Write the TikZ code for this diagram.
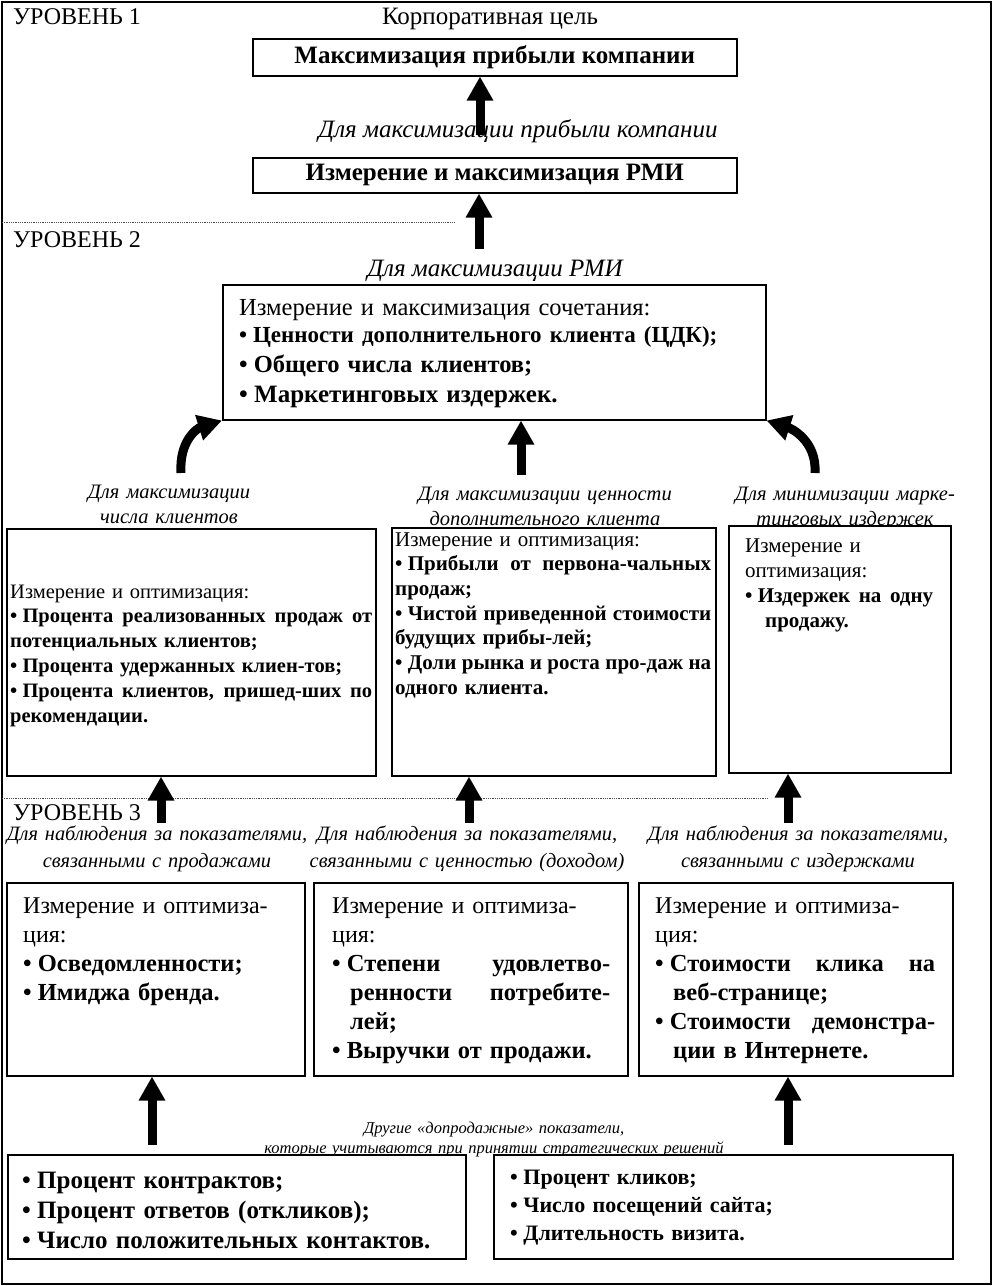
\documentclass[tikz,border=0pt]{standalone}
\usepackage{fontspec}
\setmainfont{Liberation Serif}
\usetikzlibrary{arrows.meta}
\newcommand{\jl}[2]{\makebox[#1][s]{\spaceskip=0.25em plus 1fil minus 0.1em\relax #2}}
\newcommand{\bul}{•\hspace{0.25em}}
\tikzset{
  box/.style={draw, line width=1.5pt, fill=white, inner sep=0pt, anchor=north west},
  txt/.style={inner sep=0pt, anchor=base west, align=left},
  ctxt/.style={inner sep=0pt, anchor=base, align=center},
  bigarrow/.style={line width=9pt, -{Triangle[width=25pt,length=24pt]}},
  sepline/.style={densely dotted, line width=0.8pt, black!70},
}
\begin{document}
\begin{tikzpicture}[x=1pt,y=-1pt]
\useasboundingbox (0,0) rectangle (993,1286);
\fill[white] (0,0) rectangle (993,1286);
\draw[line width=2pt] (1.5,1.5) rectangle (990.5,1284);

% ---------- LEVEL 1 ----------
\node[txt, font=\fontsize{24}{28}\selectfont] (lv1) at (13,24) {УРОВЕНЬ 1};
\node[ctxt, font=\fontsize{25}{29}\selectfont] (corp) at (490,24) {Корпоративная цель};
\node[box, minimum width=484pt, minimum height=37pt, font=\fontsize{25}{29}\selectfont\bfseries] (t1) at (252,38) {Максимизация прибыли компании};
\coordinate (a1) at (480,135);
\draw[bigarrow] (a1) -- (a1 |- t1.south);
\node[ctxt, font=\fontsize{25}{29}\selectfont\itshape] (lab1) at (518,137) {Для максимизации прибыли компании};
\node[box, minimum width=484pt, minimum height=35pt, font=\fontsize{25}{29}\selectfont\bfseries] (t2) at (252,157) {Измерение и максимизация РМИ};
\coordinate (a2) at (479,249);
\draw[bigarrow] (a2) -- (a2 |- t2.south);
\coordinate (d1a) at (2,222);
\coordinate (d1b) at (455,222);
\draw[sepline] (d1a) -- (d1b);

% ---------- LEVEL 2 ----------
\node[txt, font=\fontsize{24}{28}\selectfont] (lv2) at (13,247) {УРОВЕНЬ 2};
\node[ctxt, font=\fontsize{25}{29}\selectfont\itshape] (lab2) at (495,276) {Для максимизации РМИ};
\node[box, minimum width=543pt, minimum height=135pt] (l2) at (222,284) {};
\node[txt, text width=525pt, font=\fontsize{24.5}{30}\selectfont] (l2t) at (239,315)
  {Измерение и максимизация сочетания:\\[-3pt]
   {\fontsize{23}{30}\selectfont\bfseries \bul Ценности дополнительного клиента (ЦДК);}\\
   {\fontsize{24.5}{30}\selectfont\bfseries \bul Общего числа клиентов;}\\
   {\fontsize{25}{30}\selectfont\bfseries \bul Маркетинговых издержек.}};

\coordinate (cl) at (181,473);
\draw[bigarrow] (cl) .. controls (179,440) and (198,428) .. (l2.south west);
\coordinate (cr) at (815,473);
\draw[bigarrow] (cr) .. controls (817,440) and (790,428) .. (l2.south east);
\coordinate (cm) at (521,475);
\draw[bigarrow] (cm) -- (cm |- l2.south);

% middle labels (partly covered by the boxes)
\node[ctxt, text width=320pt, font=\fontsize{20.5}{25}\selectfont\itshape] (labA) at (169,498) {Для максимизации\\числа клиентов};
\node[ctxt, text width=320pt, font=\fontsize{20.5}{25}\selectfont\itshape] (labB) at (545,500) {Для максимизации ценности\\дополнительного клиента};
\node[ctxt, text width=320pt, font=\fontsize{20.5}{25}\selectfont\itshape] (labC) at (845,500) {Для минимизации марке-\\тинговых издержек};

% middle boxes
\node[box, minimum width=369pt, minimum height=247pt] (mA) at (6,528) {};
\node[txt, text width=362pt, font=\fontsize{20.5}{24.8}\selectfont] (mAt) at (10,598)
  {Измерение и оптимизация:\\
   \textbf{\jl{362pt}{\bul Процента реализованных продаж от}}\\
   \textbf{потенциальных клиентов;}\\
   \textbf{\bul Процента удержанных клиен-тов;}\\
   \textbf{\jl{362pt}{\bul Процента клиентов, пришед-ших по}}\\
   \textbf{рекомендации.}};
\node[box, minimum width=324pt, minimum height=248pt] (mB) at (391,527) {};
\node[txt, text width=316pt, font=\fontsize{21}{24.7}\selectfont] (mBt) at (395,546)
  {Измерение и оптимизация:\\
   \textbf{\jl{316pt}{\bul Прибыли от первона-чальных}}\\
   \textbf{продаж;}\\
   \textbf{\jl{316pt}{\bul Чистой приведенной стоимости}}\\
   \textbf{будущих прибы-лей;}\\
   \textbf{\jl{316pt}{\bul Доли рынка и роста про-даж на}}\\
   \textbf{одного клиента.}};
\node[box, minimum width=222pt, minimum height=247pt] (mC) at (728,525) {};
\node[txt, text width=190pt, font=\fontsize{21}{25}\selectfont] (mCt) at (745,552)
  {Измерение и\\
   оптимизация:\\
   \textbf{\jl{188pt}{\bul Издержек на одну}}\\
   \hspace*{20pt}\textbf{продажу.}};

% ---------- LEVEL 3 ----------
\coordinate (d2a) at (2,798);
\coordinate (d2b) at (768,798);
\draw[sepline] (d2a) -- (d2b);
\coordinate (u1) at (161,823);
\draw[bigarrow] (u1) -- (u1 |- mA.south);
\coordinate (u2) at (469,823);
\draw[bigarrow] (u2) -- (u2 |- mB.south);
\coordinate (u3) at (788,823);
\draw[bigarrow] (u3) -- (u3 |- mC.south);
\node[txt, font=\fontsize{24}{28}\selectfont] (lv3) at (13,820) {УРОВЕНЬ 3};

\node[ctxt, text width=320pt, font=\fontsize{20.4}{27}\selectfont\itshape] (l3a) at (157,840) {Для наблюдения за показателями,\\связанными с продажами};
\node[ctxt, text width=320pt, font=\fontsize{20.4}{27}\selectfont\itshape] (l3b) at (467,840) {Для наблюдения за показателями,\\связанными с ценностью (доходом)};
\node[ctxt, text width=320pt, font=\fontsize{20.4}{27}\selectfont\itshape] (l3c) at (798,840) {Для наблюдения за показателями,\\связанными с издержками};

\node[box, minimum width=298pt, minimum height=193pt] (b1) at (6,882) {};
\node[txt, text width=278pt, font=\fontsize{24}{29}\selectfont] (b1t) at (23,913)
  {Измерение и оптимиза-\\
   ция:\\
   {\fontsize{24.5}{29}\selectfont\bfseries \bul Осведомленности;}\\
   {\fontsize{24.5}{29}\selectfont\bfseries \bul Имиджа бренда.}};
\node[box, minimum width=314pt, minimum height=193pt] (b2) at (313,882) {};
\node[txt, text width=280pt, font=\fontsize{24}{29}\selectfont] (b2t) at (332,913)
  {Измерение и оптимиза-\\
   ция:\\
   {\fontsize{24.5}{29}\selectfont\bfseries \jl{278pt}{\bul Степени удовлетво-}}\\
   \hspace*{18pt}{\fontsize{24.5}{29}\selectfont\bfseries \jl{260pt}{ренности потребите-}}\\
   \hspace*{18pt}{\fontsize{24.5}{29}\selectfont\bfseries лей;}\\
   {\fontsize{24.5}{29}\selectfont\bfseries \bul Выручки от продажи.}};
\node[box, minimum width=314pt, minimum height=193pt] (b3) at (638,882) {};
\node[txt, text width=282pt, font=\fontsize{24}{29}\selectfont] (b3t) at (655,913)
  {Измерение и оптимиза-\\
   ция:\\
   {\fontsize{24.5}{29}\selectfont\bfseries \jl{280pt}{\bul Стоимости клика на}}\\
   \hspace*{18pt}{\fontsize{24.5}{29}\selectfont\bfseries веб-странице;}\\
   {\fontsize{24.5}{29}\selectfont\bfseries \jl{280pt}{\bul Стоимости демонстра-}}\\
   \hspace*{18pt}{\fontsize{24.5}{29}\selectfont\bfseries ции в Интернете.}};

% ---------- bottom ----------
\node[ctxt, text width=600pt, font=\fontsize{16.5}{20}\selectfont\itshape] (note) at (494,1133)
  {Другие «допродажные» показатели,\\которые учитываются при принятии стратегических решений};
\node[box, minimum width=458pt, minimum height=104pt] (bl) at (7,1154) {};
\node[txt, text width=440pt, font=\fontsize{25}{30}\selectfont\bfseries] (blt) at (22,1188)
  {\bul Процент контрактов;\\
   \bul Процент ответов (откликов);\\
   \bul Число положительных контактов.};
\node[box, minimum width=459pt, minimum height=104pt] (br) at (493,1154) {};
\node[txt, text width=440pt, font=\fontsize{22}{28}\selectfont\bfseries] (brt) at (510,1184)
  {\bul Процент кликов;\\
   \bul Число посещений сайта;\\
   \bul Длительность визита.};
\coordinate (v1) at (152,1145);
\draw[bigarrow] (v1) -- (v1 |- b1.south);
\coordinate (v2) at (788,1145);
\draw[bigarrow] (v2) -- (v2 |- b3.south);
\end{tikzpicture}
\end{document}
